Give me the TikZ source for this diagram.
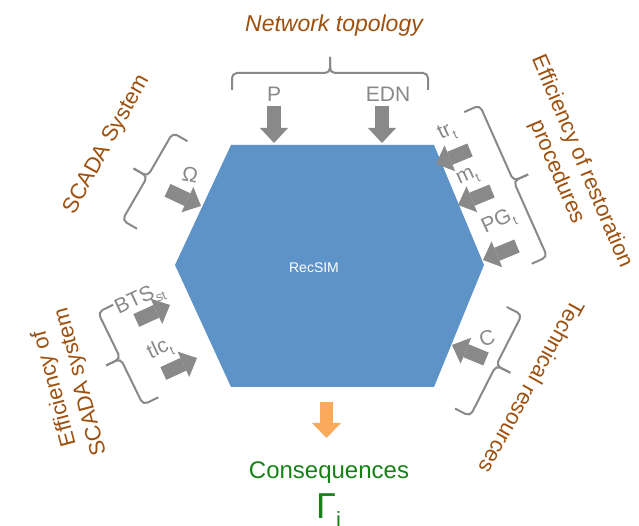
\documentclass[tikz,border=0pt]{standalone}
\usepackage{fontspec}
\setmainfont{Liberation Sans}
\usetikzlibrary{arrows.meta}

\definecolor{hexblue}{RGB}{94,147,200}
\definecolor{linegray}{RGB}{137,137,137}
\definecolor{labelbrown}{RGB}{158,80,14}
\definecolor{resultgreen}{RGB}{22,130,22}
\definecolor{resultorange}{RGB}{250,170,90}

% lowered index for the input symbols
\newcommand{\lowidx}[1]{\raisebox{-0.28em}{\fontsize{13}{13}\selectfont #1}}

\tikzset{
  inarrow/.style={draw=linegray, line width=14pt,
    -{Triangle[length=15pt, width=28pt, line width=0pt]}},
  outarrow/.style={draw=resultorange, line width=13pt,
    -{Triangle[length=15pt, width=29pt, line width=0pt]}},
  inlabel/.style={text=linegray, font=\fontsize{21}{24}\selectfont, inner sep=0pt},
  grouplabel/.style={text=labelbrown, font=\fontsize{22}{27}\selectfont, align=center, inner sep=0pt},
  bracketline/.style={draw=linegray, line width=2pt, rounded corners=5pt},
  pics/bracket/.style={code={
    \draw[bracketline] ({-#1/2},-17) -- ({-#1/2},0) -- (0,0) -- (0,16);
    \draw[bracketline] ({#1/2},-17) -- ({#1/2},0) -- (0,0) -- (0,16);
  }}
}

\begin{document}
\begin{tikzpicture}[x=1pt, y=1pt]
\useasboundingbox (0,0) rectangle (639,526);

% simulator block
\fill[hexblue] (231,381) -- (434,381) -- (484,261) -- (434,139) -- (231,139) -- (175,261) -- cycle;
\node[text=white, font=\fontsize{14}{16}\selectfont] (recsim) at (314,258) {RecSIM};

% brackets grouping the inputs
\pic at (330,453) {bracket=196};
\pic[rotate=60] at (147.5,349.5) {bracket=101};
\pic[rotate=116] at (120.5,167.5) {bracket=103};
\pic[rotate=-66] at (513.5,345) {bracket=166};
\pic[rotate=-117] at (496,160.5) {bracket=114};

% arrow end points
\coordinate (pT) at (274,420);   \coordinate (pH) at (274,383);
\coordinate (ednT) at (382,420); \coordinate (ednH) at (382,383);
\coordinate (omT) at (167.5,335.7); \coordinate (omH) at (201,320);
\coordinate (trT) at (470,376);  \coordinate (trH) at (436,362);
\coordinate (mT) at (492,335);   \coordinate (mH) at (458,321);
\coordinate (pgT) at (517,280);  \coordinate (pgH) at (483,266);
\coordinate (btsT) at (136.3,205.5); \coordinate (btsH) at (170,221);
\coordinate (tlcT) at (163.3,152.5); \coordinate (tlcH) at (197,168);
\coordinate (cT) at (486,167);   \coordinate (cH) at (452,181);
\coordinate (outT) at (326.5,124); \coordinate (outH) at (326.5,88);

\draw[inarrow] (pT) -- (pH);
\draw[inarrow] (ednT) -- (ednH);
\draw[inarrow] (omT) -- (omH);
\draw[inarrow] (trT) -- (trH);
\draw[inarrow] (mT) -- (mH);
\draw[inarrow] (pgT) -- (pgH);
\draw[inarrow] (btsT) -- (btsH);
\draw[inarrow] (tlcT) -- (tlcH);
\draw[inarrow] (cT) -- (cH);
\draw[outarrow] (outT) -- (outH);

% input symbols
\node[inlabel, anchor=base] (lp) at (274,424) {P};
\node[inlabel, anchor=base] (ledn) at (388,424) {EDN};
\node[inlabel, rotate=-10] (lom) at (190,351) {Ω};
\node[inlabel, rotate=25] (ltr) at (447,393) {tr\lowidx{t}};
\node[inlabel, rotate=25] (lm) at (468,348) {m\lowidx{t}};
\node[inlabel, rotate=25] (lpg) at (499,304) {PG\lowidx{t}};
\node[inlabel, rotate=25] (lbts) at (140,226) {BTS\lowidx{st}};
\node[inlabel, rotate=25] (ltlc) at (160,176) {tlc\lowidx{t}};
\node[inlabel, rotate=20] (lc) at (487,188) {C};

% group titles
\node[grouplabel, font=\fontsize{23}{27}\selectfont\itshape, anchor=base] (gtop) at (334,494) {Network topology};
\node[grouplabel, rotate=61] (gscada) at (107,381) {SCADA System};
\node[grouplabel, rotate=-67] (grest) at (569,359) {Efficiency of restoration\\procedures};
\node[grouplabel, rotate=105] (geff) at (68,141) {Efficiency of\\SCADA system};
\node[grouplabel, rotate=-119] (gtech) at (532,139) {Technical resources};

% result
\node[text=resultgreen, font=\fontsize{24}{28}\selectfont, anchor=base, inner sep=0pt] (cons) at (329,47) {Consequences};
\node[text=resultgreen, font=\fontsize{36}{40}\selectfont, anchor=base west, inner sep=0pt] (gamma) at (316,7)
  {Γ\raisebox{-9pt}{\fontsize{22}{22}\selectfont i}};
\end{tikzpicture}
\end{document}
